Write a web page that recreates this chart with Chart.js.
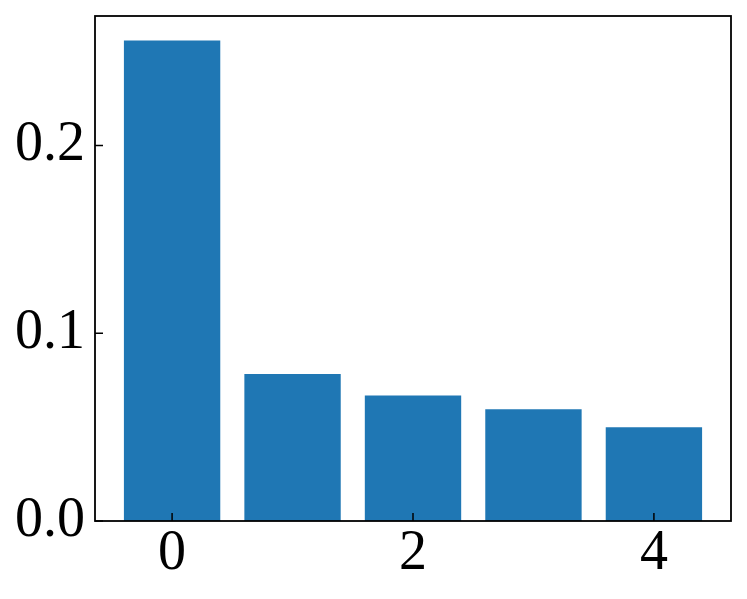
<!DOCTYPE html>
<html>
<head>
<meta charset="utf-8">
<script src="https://cdn.jsdelivr.net/npm/chart.js@4"></script>
<style>
  html, body { margin: 0; padding: 0; background: #fff; }
  #wrap { width: 747px; height: 599px; }
</style>
</head>
<body>
<div id="wrap"><canvas id="chart" width="747" height="599"></canvas></div>
<script>
// Data
const positions = [0, 1, 2, 3, 4];
const values = [0.256, 0.0783, 0.0668, 0.0595, 0.0499];
const xTicks = [0, 2, 4];
const yTicks = [0.0, 0.1, 0.2];

const FONT = { family: '"Liberation Serif", "DejaVu Serif", serif', size: 56 };

// inward tick marks, matplotlib style
const inwardTicks = {
  id: 'inwardTicks',
  afterDraw(chart) {
    const { ctx, chartArea: a, scales } = chart;
    ctx.save();
    ctx.strokeStyle = '#000';
    ctx.lineWidth = 1.5;
    ctx.beginPath();
    xTicks.forEach(v => {
      const x = scales.x.getPixelForValue(v);
      ctx.moveTo(x, a.bottom);
      ctx.lineTo(x, a.bottom - 8);
    });
    yTicks.forEach(v => {
      const y = scales.y.getPixelForValue(v);
      ctx.moveTo(a.left, y);
      ctx.lineTo(a.left + 8, y);
    });
    ctx.stroke();
    ctx.lineWidth = 1.8;
    ctx.strokeRect(a.left, a.top, a.right - a.left, a.bottom - a.top);
    ctx.restore();
  }
};

new Chart(document.getElementById('chart'), {
  type: 'bar',
  data: {
    datasets: [{
      data: positions.map((p, i) => ({ x: p, y: values[i] })),
      backgroundColor: '#1f77b4',
      borderWidth: 0,
      barPercentage: 0.8,
      categoryPercentage: 1
    }]
  },
  options: {
    responsive: false,
    animation: false,
    layout: { padding: { top: 16, right: 16, left: 0, bottom: 0 } },
    plugins: { legend: { display: false }, tooltip: { enabled: false } },
    scales: {
      x: {
        type: 'linear',
        offset: false,
        min: -0.64,
        max: 4.64,
        afterBuildTicks: s => { s.ticks = xTicks.map(v => ({ value: v })); },
        afterFit: s => { s.height = 78; s.paddingLeft = 0; s.paddingRight = 0; },
        grid: { display: false, drawTicks: false, offset: false },
        border: { display: false },
        ticks: { color: '#000', font: FONT, padding: 0, maxRotation: 0 }
      },
      y: {
        min: 0,
        max: 0.269,
        afterBuildTicks: s => { s.ticks = yTicks.map(v => ({ value: v })); },
        afterFit: s => { s.width = 95; s.paddingTop = 0; s.paddingBottom = 0; },
        grid: { display: false, drawTicks: false },
        border: { display: false },
        ticks: { color: '#000', font: FONT, padding: 10, callback: v => v.toFixed(1) }
      }
    }
  },
  plugins: [inwardTicks]
});
</script>
</body>
</html>
